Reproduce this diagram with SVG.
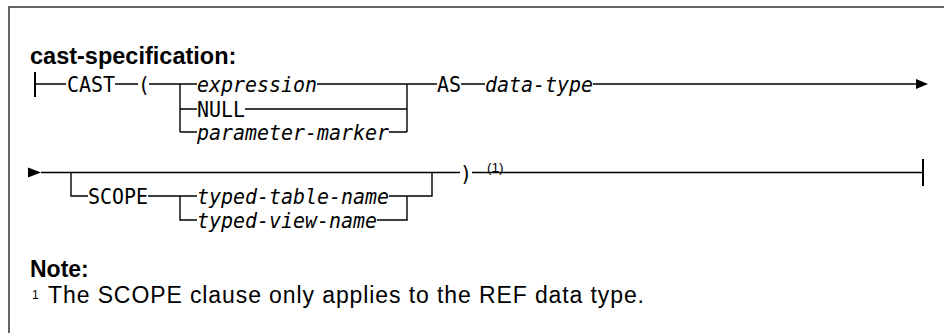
<svg xmlns="http://www.w3.org/2000/svg" width="944" height="333" viewBox="0 0 944 333">
<style>
.frame{fill:none;stroke:#333;stroke-width:1.5}
.ln{fill:none;stroke:#000;stroke-width:1.4}
.bar{fill:none;stroke:#000;stroke-width:2}
.mono{font-family:"DejaVu Sans Mono","Liberation Mono",monospace;font-size:22px;fill:#000}
.it{font-style:italic}
.head{font-family:"Liberation Sans",Arial,sans-serif;font-weight:bold;font-size:23.5px;fill:#000}
.note{font-family:"Liberation Sans",Arial,sans-serif;font-size:23px;fill:#000}
.sup{font-family:"Liberation Sans",Arial,sans-serif;font-size:13.5px;fill:#000}
</style>
<rect width="944" height="333" fill="#fff"/>
<path class="frame" d="M9,333 V7 H944"/>
<text class="head" x="30" y="64">cast-specification:</text>

<g id="connectors">
  <path class="bar" d="M35,72 V97"/>
  <path class="ln" d="M35,84 H66 M115,84 H138 M149,84 H197 M317,84 H437 M461,84 H485 M593,84 H917"/>
  <path class="ln" d="M180,84 V132 M180,109 H197 M180,132 H197 M245,109 H407 M389,132 H407 M407,84 V132"/>
  <polygon points="916,79 928,84 916,89" fill="#000"/>
  <polygon points="28,167.5 41,172.5 28,177.5" fill="#000"/>
  <path class="ln" d="M41,172.5 H460 M71,172.5 V196 H88 M148,196 H197 M180,196 V220 H197 M389,196 H432 V172.5 M377,220 H407 V196 M472,172.5 H923"/>
  <path class="bar" d="M923,159 V186"/>
</g>

<g id="n-cast"><text class="mono" x="67" y="92" textLength="48" lengthAdjust="spacingAndGlyphs">CAST</text></g>
<g id="n-lparen"><text class="mono" x="138" y="92" textLength="12" lengthAdjust="spacingAndGlyphs">(</text></g>
<g id="n-expression"><text class="mono it" x="197" y="92" textLength="120" lengthAdjust="spacingAndGlyphs">expression</text></g>
<g id="n-null"><text class="mono" x="197" y="117" textLength="48" lengthAdjust="spacingAndGlyphs">NULL</text></g>
<g id="n-parameter-marker"><text class="mono it" x="197" y="140" textLength="192" lengthAdjust="spacingAndGlyphs">parameter-marker</text></g>
<g id="n-as"><text class="mono" x="437" y="92" textLength="24" lengthAdjust="spacingAndGlyphs">AS</text></g>
<g id="n-data-type"><text class="mono it" x="485" y="92" textLength="108" lengthAdjust="spacingAndGlyphs">data-type</text></g>
<g id="n-scope"><text class="mono" x="88" y="204" textLength="60" lengthAdjust="spacingAndGlyphs">SCOPE</text></g>
<g id="n-typed-table-name"><text class="mono it" x="197" y="204" textLength="192" lengthAdjust="spacingAndGlyphs">typed-table-name</text></g>
<g id="n-typed-view-name"><text class="mono it" x="197" y="228" textLength="180" lengthAdjust="spacingAndGlyphs">typed-view-name</text></g>
<g id="n-rparen"><text class="mono" x="460" y="180.5" textLength="12" lengthAdjust="spacingAndGlyphs">)</text><text class="sup" x="487" y="172">(1)</text></g>

<g id="note">
  <text class="head" x="30" y="277" style="font-size:23px">Note:</text>
  <text class="sup" x="32" y="299" style="font-size:12px">1</text>
  <text class="note" x="48" y="303" textLength="596" lengthAdjust="spacing">The SCOPE clause only applies to the REF data type.</text>
</g>
</svg>
